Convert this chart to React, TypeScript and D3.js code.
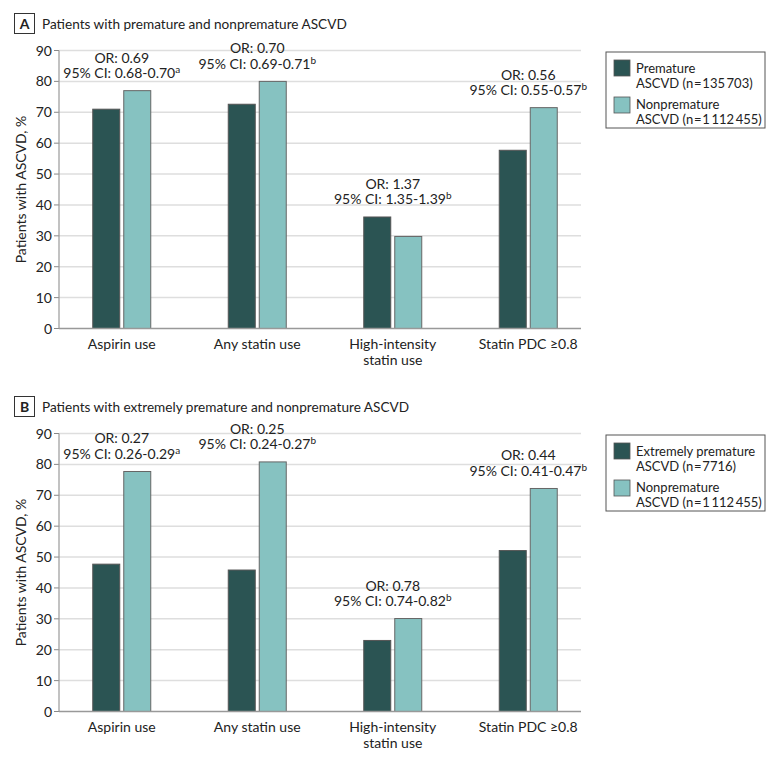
import React from "react";
import * as d3 from "d3";

const categories = ["Aspirin use", "Any statin use", "High-intensity\nstatin use", "Statin PDC ≥0.8"];
const yTicks = [0, 10, 20, 30, 40, 50, 60, 70, 80, 90];

// panel A
const prematureA = [71, 72.6, 36.1, 57.7];
const nonprematureA = [77, 80, 29.8, 71.5];
const orA = ["0.69", "0.70", "1.37", "0.56"];
const ciA = ["0.68-0.70", "0.69-0.71", "1.35-1.39", "0.55-0.57"];
const noteA = ["a", "b", "b", "b"];
const legendA = [["Premature", "ASCVD (n\u200A=\u200A135\u2009703)"], ["Nonpremature", "ASCVD (n\u200A=\u200A1\u2009112\u2009455)"]];

// panel B
const extremeB = [47.7, 45.8, 23, 52.1];
const nonprematureB = [77.7, 80.8, 30.1, 72.2];
const orB = ["0.27", "0.25", "0.78", "0.44"];
const ciB = ["0.26-0.29", "0.24-0.27", "0.74-0.82", "0.41-0.47"];
const noteB = ["a", "b", "b", "b"];
const legendB = [["Extremely premature", "ASCVD (n\u200A=\u200A7716)"], ["Nonpremature", "ASCVD (n\u200A=\u200A1\u2009112\u2009455)"]];

const DARK = "#2b5453";
const LIGHT = "#86c2c1";
const FONT = "Lato, 'Open Sans', sans-serif";

function Panel({ top, letter, title, dark, light, ors, cis, notes, legend }) {
  const x = d3.scaleBand().domain(categories).range([54, 596]);
  const y = d3.scaleLinear().domain([0, 90]).range([top + 328.5, top + 50.5]);
  const bw = 27;
  const x0 = 59;
  const x1 = 581;

  return (
    <g fontFamily={FONT} fill="#222">
      {/* panel letter + title */}
      <rect x={14.5} y={top + 13.5} width={20} height={20} fill="white" stroke="#333" strokeWidth={1} />
      <text x={24.5} y={top + 28.5} textAnchor="middle" fontWeight="bold" fontSize={14}>{letter}</text>
      <text x={42} y={top + 28.5} fontSize={13.6}>{title}</text>

      {/* grid */}
      {yTicks.slice(1).map((t) => (
        <line key={t} x1={x0} x2={x1} y1={y(t)} y2={y(t)} stroke="#dedede" strokeWidth={1.5} />
      ))}
      {yTicks.map((t) => (
        <g key={"t" + t}>
          <line x1={x0 - 5} x2={x0} y1={y(t)} y2={y(t)} stroke="#888" strokeWidth={1} />
          <text x={x0 - 7} y={y(t) + 5} textAnchor="end" fontSize={14}>{t}</text>
        </g>
      ))}
      <text
        transform={`translate(${26},${(y(0) + y(90)) / 2}) rotate(-90)`}
        textAnchor="middle"
        fontSize={14}
      >
        Patients with ASCVD, %
      </text>

      {/* bars */}
      {categories.map((c, i) => {
        const cx = x(c) + x.bandwidth() / 2;
        const topY = Math.min(y(dark[i]), y(light[i]));
        return (
          <g key={c}>
            <rect x={cx - 2 - bw} y={y(dark[i])} width={bw} height={y(0) - y(dark[i])} fill={DARK} stroke="#555" strokeWidth={1} />
            <rect x={cx + 2} y={y(light[i])} width={bw} height={y(0) - y(light[i])} fill={LIGHT} stroke="#666" strokeWidth={1} />
            <text x={cx} y={topY - 28} textAnchor="middle" fontSize={14}>OR: {ors[i]}</text>
            <text x={cx} y={topY - 12.5} textAnchor="middle" fontSize={14}>
              95% CI: {cis[i]}
              <tspan dy={-5} fontSize={10}>{notes[i]}</tspan>
            </text>
            {c.split("\n").map((ln, j) => (
              <text key={j} x={cx} y={y(0) + 20 + j * 16.5} textAnchor="middle" fontSize={14}>{ln}</text>
            ))}
          </g>
        );
      })}

      {/* axes */}
      <line x1={x0} x2={x0} y1={y(90)} y2={y(0)} stroke="#999" strokeWidth={1.2} />
      <line x1={x0} x2={x1} y1={y(0)} y2={y(0)} stroke="#999" strokeWidth={1.5} />

      {/* legend */}
      <rect x={606} y={top + 52} width={159} height={76} fill="white" stroke="#555" strokeWidth={1} />
      {legend.map((lines, i) => (
        <g key={i}>
          <rect x={614} y={top + 60 + i * 37} width={16} height={16} fill={i === 0 ? DARK : LIGHT} stroke="#555" strokeWidth={0.8} />
          {lines.map((ln, j) => (
            <text key={j} x={636} y={top + 72.5 + i * 36.5 + j * 15} fontSize={13}>{ln}</text>
          ))}
        </g>
      ))}
    </g>
  );
}

export default function App() {
  return (
    <svg width={780} height={762} style={{ position: "absolute", left: 0, top: 0, background: "white" }}>
      <Panel top={0} letter="A" title="Patients with premature and nonpremature ASCVD"
        dark={prematureA} light={nonprematureA} ors={orA} cis={ciA} notes={noteA} legend={legendA} />
      <Panel top={383} letter="B" title="Patients with extremely premature and nonpremature ASCVD"
        dark={extremeB} light={nonprematureB} ors={orB} cis={ciB} notes={noteB} legend={legendB} />
    </svg>
  );
}
